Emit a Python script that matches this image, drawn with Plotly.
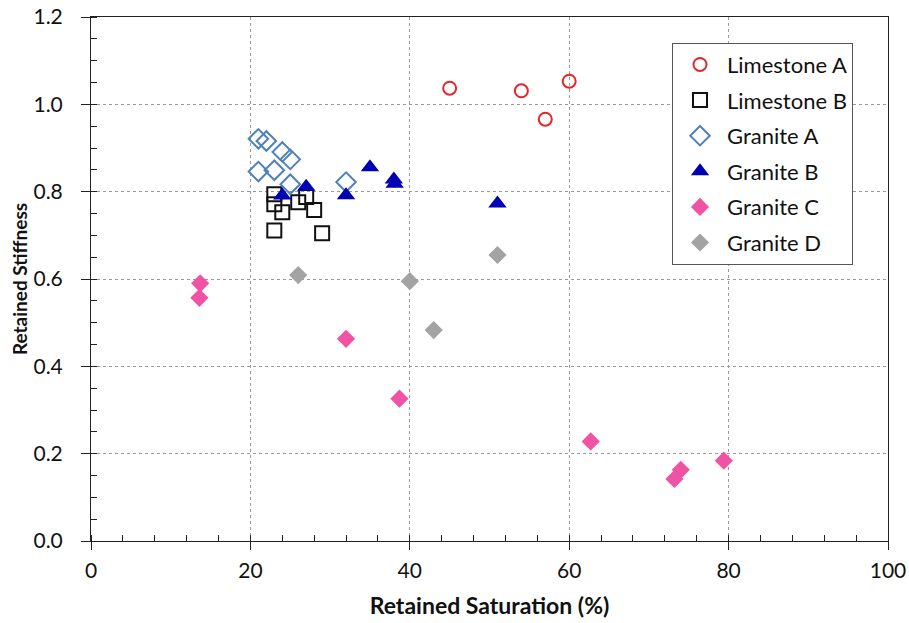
import plotly.graph_objects as go

limeA_x = [45, 54, 57, 60]
limeA_y = [1.037, 1.031, 0.966, 1.053]

limeB_x = [23, 23, 24, 26, 27, 28, 23, 29]
limeB_y = [0.794, 0.771, 0.753, 0.776, 0.788, 0.758, 0.711, 0.705]

granA_x = [21, 22, 24, 25, 21, 23, 25, 32]
granA_y = [0.921, 0.916, 0.891, 0.874, 0.846, 0.849, 0.817, 0.822]

granB_x = [24, 27, 32, 35, 38, 38.1, 51]
granB_y = [0.791, 0.811, 0.792, 0.856, 0.828, 0.818, 0.773]

granC_x = [13.7, 13.6, 32, 38.7, 62.7, 74, 73.2, 79.4]
granC_y = [0.590, 0.557, 0.463, 0.326, 0.228, 0.163, 0.142, 0.184]

granD_x = [26, 40, 43, 51]
granD_y = [0.609, 0.595, 0.483, 0.655]

series = [
    ("Limestone A", limeA_x, limeA_y, dict(symbol="circle-open", size=13, color="#e3262b", line=dict(width=2, color="#e3262b"))),
    ("Limestone B", limeB_x, limeB_y, dict(symbol="square-open", size=14, color="#111111", line=dict(width=2, color="#111111"))),
    ("Granite A", granA_x, granA_y, dict(symbol="diamond-open", size=15, color="#4f81bd", line=dict(width=2, color="#4f81bd"))),
    ("Granite B", granB_x, granB_y, dict(symbol="triangle-up", size=16, color="#0000b4", line=dict(width=0))),
    ("Granite C", granC_x, granC_y, dict(symbol="diamond", size=14, color="#f052a4", line=dict(width=0))),
    ("Granite D", granD_x, granD_y, dict(symbol="diamond", size=14, color="#a3a3a3", line=dict(width=0))),
]

fig = go.Figure()
for i, (name, xs, ys, mk) in enumerate(series):
    fig.add_trace(go.Scatter(x=xs, y=ys, mode="markers", name=name, marker=mk,
                             legendgroup=f"g{i}"))

font_family = "Lato, Open Sans, sans-serif"

axis_common = dict(
    showline=True, linecolor="#222222", linewidth=1, mirror=True,
    showgrid=True, gridcolor="#9a9a9a", griddash="dot", gridwidth=1,
    zeroline=False, automargin=False, ticklabeloverflow="allow",
    ticks="outside", tickcolor="#222222",
    tickfont=dict(size=21, color="#111111", family=font_family),
)

fig.update_layout(
    width=909, height=623,
    margin=dict(l=91, r=21, t=17, b=82),
    plot_bgcolor="white", paper_bgcolor="white",
    font=dict(family=font_family, color="#111111"),
    xaxis=dict(range=[0, 100], dtick=20, tickformat="d", ticklen=8, ticklabelstandoff=3,
               minor=dict(ticks="inside", dtick=4, ticklen=6, tickcolor="#222222", showgrid=False),
               title=dict(text="<b>Retained Saturation (%)</b>", font=dict(size=23), standoff=16),
               **axis_common),
    yaxis=dict(range=[0, 1.2], dtick=0.2, tickformat=".1f", ticklen=9, ticklabelstandoff=14,
               minor=dict(ticks="inside", dtick=0.05, ticklen=6, tickcolor="#222222", showgrid=False),
               title=dict(text="<b>Retained Stiffness</b>", font=dict(size=19), standoff=0),
               **axis_common),
    legend=dict(x=0.729, y=0.951, xanchor="left", yanchor="top",
                bordercolor="#555555", borderwidth=1, bgcolor="white",
                font=dict(size=22, color="#111111", family=font_family),
                tracegroupgap=4, itemwidth=44),
    showlegend=True,
)

fig.write_html("out.html", config={"displayModeBar": False},
               post_script="document.body.style.margin='0';document.body.style.overflow='hidden';")
